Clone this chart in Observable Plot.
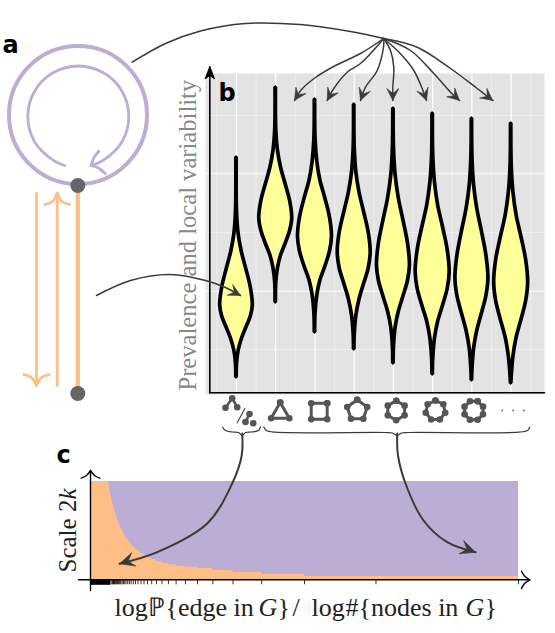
<!DOCTYPE html>
<html><head><meta charset="utf-8">
<script src="https://cdn.jsdelivr.net/npm/d3@7"></script>
<script src="https://cdn.jsdelivr.net/npm/@observablehq/plot@0.6"></script>
<style>html,body{margin:0;padding:0;background:#fff}#chart{position:relative;width:555px;height:633px;overflow:hidden}</style>
</head><body><div id="chart"></div>
<script>
// Panel b: violin profiles (level, half-width density)
const violinLevels = [
 [235,180,158,141,123,105,87,76,65,53,42,29,15],
 [305,262,242,225,208,191,174,162,149,137,124,110,90],
 [293,254,231,212,194,175,156,141,126,112,97,79,60],
 [288,244,220,200,180,160,140,124,109,93,77,58,43],
 [284,244,217,194.5,172,149.5,127,111.5,96,80.5,65,46,29],
 [279,237,210,187.5,165,142.5,120,103.5,87,70.5,54,34,18],
 [274,235,207,184,161,137,114,96.5,79,61.5,44,23,12],
 [269,227,200,177.5,155,132.5,110,91.5,73,54.5,36,16,9]
];
const violinDensity = [
 [.2,.55,2.2,5.2,9.9,14.3,16.3,14.3,9.9,5.2,2.2,.55,.2],
 [.2,.56,2.2,5.3,10,14.5,16.5,14.5,10,5.3,2.2,.56,.2],
 [.2,.58,2.3,5.4,10.4,15,17,15,10.4,5.4,2.3,.58,.2],
 [.2,.56,2.2,5.3,10,14.5,16.5,14.5,10,5.3,2.2,.56,.2],
 [.2,.56,2.2,5.3,10,14.5,16.5,14.5,10,5.3,2.2,.56,.2],
 [.2,.58,2.3,5.4,10.4,15,17,15,10.4,5.4,2.3,.58,.2],
 [.2,.56,2.2,5.3,10,14.5,16.5,14.5,10,5.3,2.2,.56,.2],
 [.2,.58,2.3,5.4,10.4,15,17,15,10.4,5.4,2.3,.58,.2]
];
const majorLevels = [101.3,219];
const minorLevels = [43,160,277];
const majorColumns = [0,1,2,3,4,5,6,7];
const minorColumns = [-.5,.5,1.5,2.5,3.5,4.5,5.5,6.5,7.5];

// Panel c: staircase boundary between the two regimes, and rug of exponents
const stairExponent = [0,.0414,.0422,.043,.0438,.0446,.0455,.0464,.0474,.0484,.0494,.0505,.0516,.0528,.054,.0553,.0566,.058,.0595,.0611,.0628,.0645,.0663,.0682,.0702,.0723,.0746,.077,.0796,.0825,.0855,.0888,.0924,.0963,.1005,.105,.111,.118,.125,.133,.143,.154,.167,.182,.2,.222,.25,.286,.333,.4,.5,.667,1];
const stairScale = [98,98,96,94,92,90,88,86,84,82,80,78,76,74,72,70,68,66,64,62,60,58,56,54,52,50,48,46,44,42,40,38,36,34,32,30,28,26,24,22,20,18,16.5,15,13.3,12.5,11.3,9.3,7.3,5.3,3.3,3.3,3.3];
const rugExponent = [1,.667,.5,.4,.333,.286,.25,.222,.2,.182,.167,.154,.143,.133,.125,.118,.111,.105,.1,.095,.091,.087,.083,.08,.077,.074,.071,.069,.067,.065,.063,.061,.059,.057,.056,.054,.053,.051,.05];
const rugSolidEnd = .048;

const PURPLE="#bcadd4", ORANGE="#ffbe85", YELLOW="#ffff99", DARK="#3a3a3a", NODE="#666666", ICON="#555555";
const SERIF="'Liberation Serif',serif", SANS="'DejaVu Sans',sans-serif";

// Annotation geometry in page units
const ringCenter=[{x:77.5,y:114.5}];
const ringRadius=69;
const innerArc=[[64.3,165],[52.5,159.7],[34.1,141.3],[27.3,116],[34.1,90.7],[52.5,72.3],[77.8,65.5],[103,72.3],[121.5,90.7],[128.3,116],[121.5,141.3],[103,159.7],[90.7,165]];
const innerBarbs=[[[98.3,150.7],[93.5,157],[90.7,165]],[[105,173.3],[97,167],[90.7,165]]];
const nodes=[{x:77.3,y:185},{x:77.3,y:393}];
const stem=[[77.3,185],[77.3,393]];
const downArrow=[[36,193],[36,385]];
const upArrow=[[56.7,385],[56.7,193]];
const orangeBarbs=[[[23.3,374],[31,377],[36,385]],[[48.7,374],[41,377],[36,385]],[[44.3,204],[52,201],[56.7,193]],[[69,204],[61.5,201],[56.7,193]]];
const hub=[383.3,38];
const swoop=[[131.7,61.7],[165,43],[200,30.5],[245,23],[300,24],[350,31],hub];
const fan=[
 [hub,[360,53],[335,65],[315,77],[301,89],[294,100]],
 [hub,[360,63],[346.7,71.7],[333.3,88],[326.7,100]],
 [hub,[383,46.7],[376.7,70],[365,86.7],[360,100]],
 [hub,[390,50],[393.3,66.7],[392.3,86.7],[392.3,100]],
 [hub,[400,53.3],[413.3,70],[421.7,88],[426,100]],
 [hub,[410,50],[433.3,73],[450,91.7],[459,100]],
 [hub,[416.7,46.7],[450,68],[476.7,88],[492.3,100]]
];
const toViolin=[[96,295],[130,280],[170,274],[205,280],[225,287],[240,295]];
const toLeftC=[[241.7,433],[241.2,455],[231.7,483],[206.7,523],[156.7,551.7],[119,563.3]];
const toRightC=[[396.7,433],[397.5,455],[405,483],[423,520],[446.7,541.7],[475,551.7]];
const braces=[
 [[222,426.5],[225,430],[232,431.5],[238,432],[241.7,435],[245,432],[251,431.5],[258,430],[260,426.5]],
 [[263.3,426.5],[266,430],[275,431.7],[385,432],[392,432.5],[396.7,435],[401,432.5],[408,432],[518,431.7],[527,430],[529.3,426.5]]
];
const axisB=[[[209.3,392.3],[209.3,70]],[[209.3,392.3],[544,392.3]]];
const axisC=[[[90,590],[90,471]],[[78,579.3],[528,579.3]]];
const openBarbs=[[[80.7,477.7],[86,475],[90,470]],[[99.3,477.7],[94,475],[90,470]],[[521,570.7],[524,575.5],[529.3,579.3]],[[521,588],[524,583],[529.3,579.3]]];
const motifs=[{n:3,x:279.7,y:412.5,r:10.5,a:-90},{n:4,x:318.7,y:410.8,r:11.3,a:-45},{n:5,x:356.7,y:409.8,r:10.5,a:-90},{n:6,x:395.7,y:410,r:9.7,a:-90},{n:7,x:435,y:410,r:10,a:-90},{n:8,x:473.3,y:410,r:10,a:-67.5}];
const motifTree=[[225,407.3],[231.7,397.7],[236.7,406.7]];
const motifEdge=[[249,413.5],[245,421.5]];
const motifLone=[[252.7,422.7]];
const motifSlash=[[244.3,408.3],[236.7,422.3]];
const ellipsis=[[501.7,410],[512.7,410],[523.3,410]];

const chart=document.getElementById("chart");
const place=(l,t)=>({position:"absolute",left:l+"px",top:t+"px",background:"none",overflow:"visible"});
const densityScale=1/39.25;

// ---- Panel b
const violinRows=violinLevels.flatMap((ls,i)=>ls.map((v,j)=>({i,v,d:violinDensity[i][j]})));
chart.append(Plot.plot({
  width:339,height:321,margin:0,style:place(205,73),
  x:{domain:[-.79,7.85],axis:null},y:{domain:[-2,319],axis:null},
  marks:[
    Plot.frame({fill:"#e3e3e3",stroke:null}),
    Plot.ruleY(minorLevels,{stroke:"#eeeeee",strokeWidth:1}),
    Plot.ruleX(minorColumns,{stroke:"#eeeeee",strokeWidth:1}),
    Plot.ruleY(majorLevels,{stroke:"#f6f6f6",strokeWidth:1.5}),
    Plot.ruleX(majorColumns,{stroke:"#ffffff",strokeWidth:1.2}),
    Plot.areaX(violinRows,{y:"v",x1:d=>d.i-d.d*densityScale,x2:d=>d.i+d.d*densityScale,z:"i",curve:"catmull-rom",fill:YELLOW,stroke:"#000",strokeWidth:3.7,strokeLinejoin:"miter"})
  ]
}));

// ---- Panel c
const stairRows=stairExponent.map((t,i)=>({t,h:stairScale[i]}));
chart.append(Plot.plot({
  width:428,height:106,margin:0,style:place(90,481),
  x:{domain:[0,1],axis:null},y:{domain:[-7.7,98],axis:null},
  marks:[
    Plot.rect([{x1:0,x2:1,y1:0,y2:98}],{x1:"x1",x2:"x2",y1:"y1",y2:"y2",fill:PURPLE}),
    Plot.areaY(stairRows,{x:"t",y1:()=>0,y2:"h",curve:"step-after",fill:ORANGE}),
    Plot.ruleX(rugExponent,{y1:()=>0,y2:()=>-5,stroke:"#000",strokeWidth:.8}),
    Plot.rect([{x1:0,x2:rugSolidEnd}],{x1:"x1",x2:"x2",y1:()=>0,y2:()=>-5.5,fill:"#000"})
  ]
}));

// ---- Overlay: schematic, connectors, motifs, labels
const toRows=(paths)=>paths.flatMap((p,id)=>p.map(([x,y])=>({id,x,y})));
const head=(path,len=10,half=5.5,notch=6)=>{
  const [tx,ty]=path[path.length-1],[fx,fy]=path[path.length-2];
  const L=Math.hypot(tx-fx,ty-fy),ux=(tx-fx)/L,uy=(ty-fy)/L,px=-uy,py=ux;
  return [[tx,ty],[tx-ux*len+px*half,ty-uy*len+py*half],[tx-ux*notch,ty-uy*notch],[tx-ux*len-px*half,ty-uy*len-py*half],[tx,ty]];
};
const motifRows=motifs.flatMap((m,id)=>d3.range(m.n+1).map(k=>{const a=(m.a+360*k/m.n)*Math.PI/180;return {id,x:m.x+m.r*Math.cos(a),y:m.y+m.r*Math.sin(a)};}));
const fanHeads=[...fan.map(p=>head(p,12,6,7)),head(toViolin,12,6,7)];
const bigHeads=[head(toLeftC,15,7,9),head(toRightC,15,7,9)];
const axisHeadB=[[[209.3,66],[204.7,78.3],[209.3,75],[214,78.3],[209.3,66]]];
const labels=[
 {t:"a",x:2,y:52,s:24,f:SANS,w:"bold"},{t:"b",x:218,y:100,s:24,f:SANS,w:"bold"},{t:"c",x:56,y:462,s:24,f:SANS,w:"bold"}
];
const xlabel=[
 {t:"log",x:114,s:26},{t:"ℙ",x:147,s:26},{t:"{edge in",x:165,s:26},{t:"G",x:258,s:26,i:1},{t:"}",x:277,s:26},{t:"/",x:292,s:26},
 {t:"log",x:311,s:26},{t:"#",x:345,s:26},{t:"{nodes in",x:358,s:26},{t:"G",x:465,s:26,i:1},{t:"}",x:484,s:26}
];
chart.append(Plot.plot({
  width:555,height:633,margin:0,style:place(0,0),
  x:{domain:[0,555],range:[0,555],axis:null},y:{domain:[0,633],range:[0,633],axis:null},
  marks:[
    // a
    Plot.dot(ringCenter,{x:"x",y:"y",r:ringRadius,stroke:PURPLE,strokeWidth:4,fill:"none"}),
    Plot.line(toRows([innerArc]),{x:"x",y:"y",z:"id",curve:"catmull-rom",stroke:PURPLE,strokeWidth:2.8}),
    Plot.line(toRows(innerBarbs),{x:"x",y:"y",z:"id",curve:"catmull-rom",stroke:PURPLE,strokeWidth:2.8}),
    Plot.line(toRows([stem]),{x:"x",y:"y",z:"id",stroke:ORANGE,strokeWidth:4.2}),
    Plot.line(toRows([downArrow,upArrow]),{x:"x",y:"y",z:"id",stroke:ORANGE,strokeWidth:2.8}),
    Plot.line(toRows(orangeBarbs),{x:"x",y:"y",z:"id",curve:"catmull-rom",stroke:ORANGE,strokeWidth:2.8}),
    Plot.dot(nodes,{x:"x",y:"y",r:7.5,fill:NODE}),
    // text behind connectors
    Plot.text([{t:"Prevalence and local variability",x:195,y:390}],{x:"x",y:"y",text:"t",rotate:-90,textAnchor:"start",lineAnchor:"bottom",fontFamily:SERIF,fontSize:24.6,fill:"#888888"}),
    Plot.text([{t:"Scale 2",x:75,y:572}],{x:"x",y:"y",text:"t",rotate:-90,textAnchor:"start",lineAnchor:"bottom",fontFamily:SERIF,fontSize:25,fill:"#222"}),
    Plot.text([{t:"k",x:75,y:499}],{x:"x",y:"y",text:"t",rotate:-90,textAnchor:"start",lineAnchor:"bottom",fontFamily:SERIF,fontStyle:"italic",fontSize:25,fill:"#222"}),
    ...xlabel.map(l=>Plot.text([l],{x:"x",y:()=>615,text:"t",textAnchor:"start",lineAnchor:"bottom",fontFamily:SERIF,fontSize:l.s,fontStyle:l.i?"italic":"normal",fill:"#222"})),
    ...labels.map(l=>Plot.text([l],{x:"x",y:"y",text:"t",textAnchor:"start",lineAnchor:"bottom",fontFamily:l.f,fontSize:l.s,fontWeight:l.w,fill:"#000"})),
    // axes
    Plot.line(toRows(axisB),{x:"x",y:"y",z:"id",stroke:"#000",strokeWidth:1.6}),
    Plot.line(toRows(axisHeadB),{x:"x",y:"y",z:"id",stroke:"#000",fill:"#000",strokeWidth:1}),
    Plot.line(toRows(axisC),{x:"x",y:"y",z:"id",stroke:"#000",strokeWidth:1.4}),
    Plot.line(toRows(openBarbs),{x:"x",y:"y",z:"id",curve:"catmull-rom",stroke:"#000",strokeWidth:1.4}),
    // connectors
    Plot.line(toRows([swoop,...fan,toViolin]),{x:"x",y:"y",z:"id",curve:"catmull-rom",stroke:DARK,strokeWidth:1.5}),
    Plot.line(toRows(fanHeads),{x:"x",y:"y",z:"id",stroke:DARK,fill:DARK,strokeWidth:.6}),
    Plot.line(toRows([toLeftC,toRightC]),{x:"x",y:"y",z:"id",curve:"catmull-rom",stroke:DARK,strokeWidth:2}),
    Plot.line(toRows(bigHeads),{x:"x",y:"y",z:"id",stroke:DARK,fill:DARK,strokeWidth:.6}),
    Plot.line(toRows(braces),{x:"x",y:"y",z:"id",curve:"catmull-rom",stroke:DARK,strokeWidth:1.2}),
    // motifs
    Plot.line(motifRows,{x:"x",y:"y",z:"id",stroke:ICON,strokeWidth:3}),
    Plot.dot(motifRows,{x:"x",y:"y",r:3.3,fill:ICON}),
    Plot.line(toRows([motifTree,motifEdge]),{x:"x",y:"y",z:"id",stroke:ICON,strokeWidth:2.6}),
    Plot.dot(toRows([motifTree,motifEdge,motifLone]),{x:"x",y:"y",r:3.3,fill:ICON}),
    Plot.line(toRows([motifSlash]),{x:"x",y:"y",z:"id",stroke:ICON,strokeWidth:1.3}),
    Plot.dot(toRows([ellipsis]),{x:"x",y:"y",r:.9,fill:"#666"})
  ]
}));
</script></body></html>
